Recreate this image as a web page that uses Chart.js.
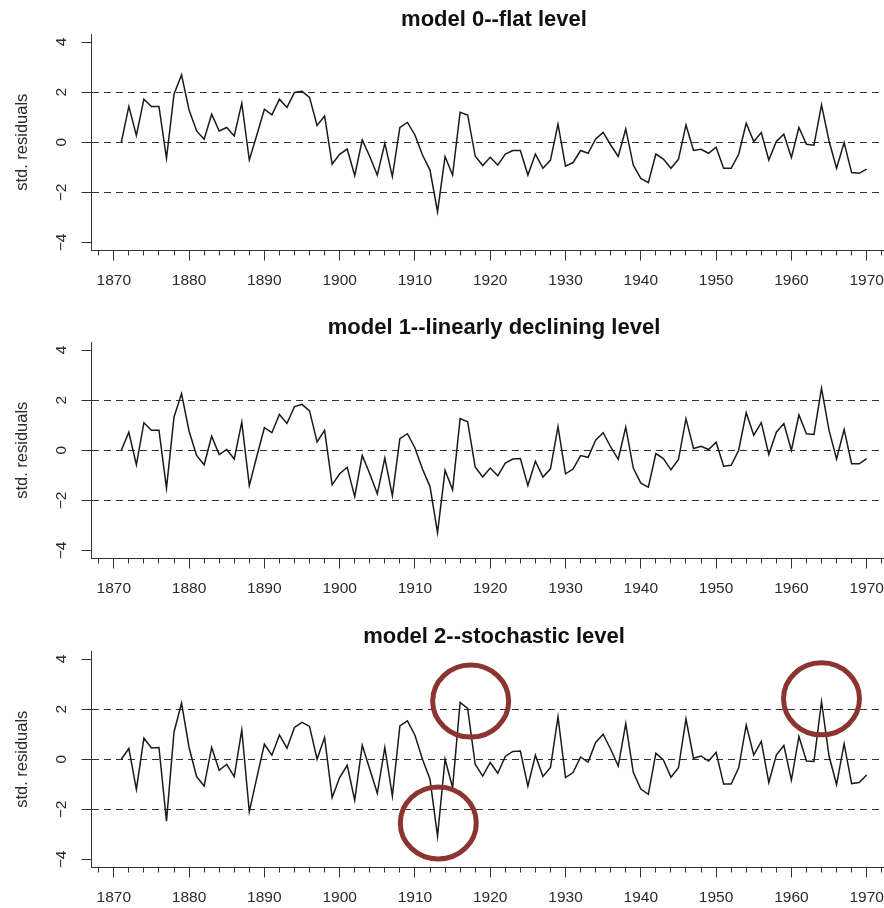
<!DOCTYPE html>
<html>
<head>
<meta charset="utf-8">
<title>Standardized residuals of three level models, 1871–1970</title>
<script src="https://cdn.jsdelivr.net/npm/chart.js@4.4.1/dist/chart.umd.min.js"></script>
<style>
  html, body { margin: 0; padding: 0; background: #ffffff; overflow: hidden; width: 884px; height: 908px; }
  .panel { position: absolute; left: 0; width: 988px; height: 300px; }
  canvas { display: block; }
</style>
</head>
<body>
<div class="panel" style="top:0px"><canvas id="panel0" width="988" height="300"></canvas></div>
<div class="panel" style="top:308px"><canvas id="panel1" width="988" height="300"></canvas></div>
<div class="panel" style="top:617px"><canvas id="panel2" width="988" height="300"></canvas></div>
<script>
// ---- data -------------------------------------------------------------
const years = Array.from({ length: 100 }, (_, i) => 1871 + i);

const flatLevel = [
  0.00, 1.43, 0.27, 1.72, 1.43, 1.43, -0.64, 1.92, 2.69, 1.29,
  0.45, 0.12, 1.12, 0.45, 0.59, 0.25, 1.56, -0.71, 0.29, 1.32,
  1.09, 1.72, 1.39, 1.99, 2.03, 1.79, 0.67, 1.05, -0.87, -0.48,
  -0.27, -1.33, 0.09, -0.57, -1.31, -0.04, -1.37, 0.59, 0.79, 0.29,
  -0.51, -1.11, -2.77, -0.57, -1.31, 1.20, 1.09, -0.55, -0.93, -0.60,
  -0.91, -0.47, -0.33, -0.33, -1.31, -0.47, -1.04, -0.71, 0.72, -0.95,
  -0.81, -0.33, -0.44, 0.13, 0.39, -0.11, -0.57, 0.53, -0.91, -1.44,
  -1.61, -0.47, -0.67, -1.04, -0.68, 0.69, -0.33, -0.28, -0.44, -0.20,
  -1.04, -1.04, -0.48, 0.76, 0.03, 0.39, -0.71, 0.03, 0.32, -0.61,
  0.59, -0.08, -0.12, 1.49, 0.05, -1.04, -0.01, -1.21, -1.24, -1.07
];

const decliningLevel = [
  0.00, 0.72, -0.58, 1.10, 0.80, 0.80, -1.51, 1.33, 2.26, 0.76,
  -0.21, -0.58, 0.56, -0.17, 0.03, -0.35, 1.12, -1.41, -0.24, 0.90,
  0.70, 1.43, 1.07, 1.74, 1.83, 1.57, 0.33, 0.79, -1.38, -0.94,
  -0.68, -1.85, -0.21, -0.94, -1.74, -0.31, -1.81, 0.46, 0.66, 0.09,
  -0.75, -1.45, -3.29, -0.80, -1.58, 1.26, 1.14, -0.67, -1.07, -0.71,
  -1.02, -0.51, -0.35, -0.33, -1.41, -0.44, -1.07, -0.74, 0.94, -0.94,
  -0.75, -0.21, -0.28, 0.40, 0.70, 0.13, -0.36, 0.92, -0.71, -1.31,
  -1.47, -0.13, -0.33, -0.78, -0.37, 1.26, 0.07, 0.16, 0.03, 0.32,
  -0.64, -0.60, 0.00, 1.50, 0.60, 1.10, -0.17, 0.72, 1.07, 0.00,
  1.41, 0.66, 0.63, 2.48, 0.79, -0.35, 0.83, -0.54, -0.54, -0.33
];

const stochasticLevel = [
  0.00, 0.43, -1.20, 0.84, 0.45, 0.47, -2.47, 1.09, 2.24, 0.47,
  -0.69, -1.07, 0.47, -0.44, -0.20, -0.69, 1.17, -2.09, -0.73, 0.60,
  0.16, 0.97, 0.44, 1.27, 1.47, 1.31, 0.00, 0.87, -1.53, -0.73,
  -0.24, -1.63, 0.56, -0.40, -1.36, 0.47, -1.47, 1.33, 1.53, 0.96,
  0.00, -0.80, -3.07, 0.00, -1.13, 2.27, 2.03, -0.20, -0.67, -0.13,
  -0.56, 0.11, 0.31, 0.33, -1.07, 0.16, -0.69, -0.33, 1.69, -0.73,
  -0.53, 0.09, -0.11, 0.67, 1.00, 0.40, -0.27, 1.42, -0.52, -1.19,
  -1.40, 0.24, -0.03, -0.72, -0.34, 1.61, 0.04, 0.13, -0.07, 0.28,
  -0.99, -0.99, -0.34, 1.36, 0.17, 0.71, -0.93, 0.17, 0.55, -0.83,
  0.91, -0.07, -0.09, 2.30, 0.13, -1.01, 0.62, -0.97, -0.93, -0.63
];

const panelTitles = [
  'model 0--flat level',
  'model 1--linearly declining level',
  'model 2--stochastic level'
];

// axis ticks
const xLabelYears = [1870, 1880, 1890, 1900, 1910, 1920, 1930, 1940, 1950, 1960, 1970];
const xTickYears = [
  1868, 1870, 1872, 1874, 1876, 1878, 1880, 1882, 1884, 1886, 1888,
  1890, 1892, 1894, 1896, 1898, 1900, 1902, 1904, 1906, 1908,
  1910, 1912, 1914, 1916, 1918, 1920, 1922, 1924, 1926, 1928,
  1930, 1932, 1934, 1936, 1938, 1940, 1942, 1944, 1946, 1948,
  1950, 1952, 1954, 1956, 1958, 1960, 1962, 1964, 1966, 1968,
  1970, 1972
];
const yTickValues = [-4, -2, 0, 2, 4];
const guideLevels = [-2, 0, 2];

// flagged outliers in the stochastic-level model (ring centres, data units)
const ringYears = [1917.4, 1913.1, 1964.0];
const ringLevels = [2.32, -2.54, 2.41];

// ---- drawing ----------------------------------------------------------
Chart.defaults.font.family = "'Liberation Sans', Arial, Helvetica, sans-serif";
Chart.defaults.animation = false;

const INK = '#1a1a1a';
const AXIS = '#333333';
const TEXT = '#2b2b2b';

// red rings drawn around flagged residuals
const ringPlugin = {
  id: 'rings',
  afterDatasetsDraw(chart, args, opts) {
    if (!opts || !opts.years || !opts.years.length) return;
    const { ctx } = chart;
    const xs = chart.scales.x, ys = chart.scales.y;
    ctx.save();
    ctx.strokeStyle = opts.color;
    ctx.lineWidth = opts.width;
    opts.years.forEach((yr, i) => {
      const cx = xs.getPixelForValue(yr);
      const cy = ys.getPixelForValue(opts.levels[i]);
      ctx.beginPath();
      ctx.ellipse(cx, cy, opts.rx, opts.ry, 0, 0, Math.PI * 2);
      ctx.stroke();
    });
    ctx.restore();
  }
};

function makePanel(canvasId, title, values, rings) {
  const points = years.map((yr, i) => ({ x: yr, y: values[i] }));
  return new Chart(document.getElementById(canvasId), {
    type: 'line',
    data: {
      datasets: [{
        data: points,
        borderColor: INK,
        borderWidth: 1.5,
        pointRadius: 0,
        tension: 0,
        fill: false
      }]
    },
    plugins: [ringPlugin],
    options: {
      responsive: false,
      devicePixelRatio: 1,
      events: [],
      layout: { padding: 0 },
      plugins: {
        legend: { display: false },
        tooltip: { enabled: false },
        title: {
          display: true,
          text: title,
          color: '#111111',
          font: { size: 22, weight: 'bold' },
          padding: { top: 6.3, bottom: 1.3 }
        },
        rings: rings || {}
      },
      scales: {
        x: {
          type: 'linear',
          position: 'bottom',
          min: 1867.04,
          max: 1973.96,
          afterBuildTicks: s => { s.ticks = xTickYears.map(v => ({ value: v })); },
          afterFit: s => { s.height = 49.5; },
          ticks: {
            autoSkip: false,
            minRotation: 0,
            maxRotation: 0,
            padding: 11,
            color: TEXT,
            font: { size: 15.5 },
            callback: v => (xLabelYears.includes(v) ? String(v) : '')
          },
          grid: {
            drawOnChartArea: false,
            drawTicks: true,
            tickLength: 10,
            tickColor: AXIS,
            tickWidth: 1,
            tickBorderDash: c => (c.tick && xLabelYears.includes(c.tick.value) ? [] : [4.5, 100])
          },
          border: { display: true, color: AXIS, width: 1 }
        },
        y: {
          type: 'linear',
          position: 'left',
          min: -4.32,
          max: 4.32,
          afterBuildTicks: s => { s.ticks = yTickValues.map(v => ({ value: v })); },
          afterFit: s => { s.width = 91.5; },
          ticks: {
            minRotation: 90,
            maxRotation: 90,
            crossAlign: 'center',
            padding: 11.4,
            color: TEXT,
            font: { size: 15.5 },
            callback: v => (v < 0 ? '\u2212' + Math.abs(v) : String(v))
          },
          grid: {
            drawOnChartArea: true,
            color: c => (c.tick && guideLevels.includes(c.tick.value) ? AXIS : 'rgba(0,0,0,0)'),
            lineWidth: 1,
            drawTicks: true,
            tickLength: 10,
            tickColor: AXIS,
            tickWidth: 1
          },
          border: { display: true, color: AXIS, width: 1, dash: [7, 5] },
          title: {
            display: true,
            text: 'std. residuals',
            color: TEXT,
            font: { size: 16.5 },
            padding: { top: 12.3, bottom: 0 }
          }
        },
        // empty right-hand axis: reserves the outer margin so the title centres over the plot
        yRight: {
          type: 'linear',
          position: 'right',
          display: true,
          afterFit: s => { s.width = 91.5; },
          ticks: { display: false },
          grid: { display: false },
          border: { display: false }
        }
      }
    }
  });
}

makePanel('panel0', panelTitles[0], flatLevel);
makePanel('panel1', panelTitles[1], decliningLevel);
makePanel('panel2', panelTitles[2], stochasticLevel, {
  years: ringYears,
  levels: ringLevels,
  rx: 38,
  ry: 36,
  width: 5,
  color: '#8c3530'
});
</script>
</body>
</html>
